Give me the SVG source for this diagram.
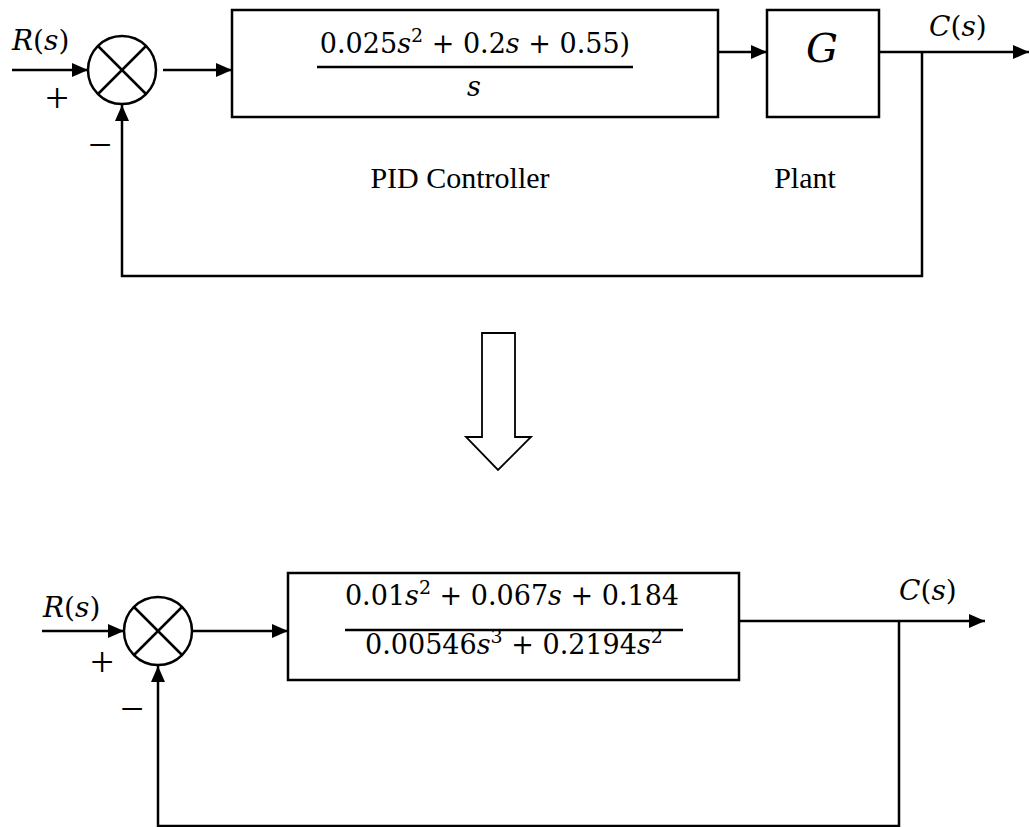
<svg xmlns="http://www.w3.org/2000/svg" width="1030" height="827" viewBox="0 0 1030 827">
<style>
.ln{fill:none;stroke:#000;stroke-width:2.5}
.bx{fill:#fff;stroke:#000;stroke-width:2.5}
.m{font-family:"DejaVu Serif","Liberation Serif",serif;font-size:27px;fill:#000}
.i{font-style:italic}
.sup{font-size:19px}
.lbl{font-family:"Liberation Serif","Times New Roman",serif;font-size:30px;fill:#000}
.sg{font-family:"Liberation Serif","Times New Roman",serif;font-size:42px;fill:#000}
</style>
<defs>
<marker id="ah" markerUnits="userSpaceOnUse" markerWidth="17" markerHeight="14" refX="16" refY="7" orient="auto">
<path d="M0,0 L16,7 L0,14 z" fill="#000"/>
</marker>
</defs>
<rect width="1030" height="827" fill="#fff"/>

<g id="connectors">
<line class="ln" x1="12" y1="70" x2="88" y2="70" marker-end="url(#ah)"/>
<line class="ln" x1="163" y1="70" x2="232" y2="70" marker-end="url(#ah)"/>
<line class="ln" x1="718" y1="52" x2="767" y2="52" marker-end="url(#ah)"/>
<line class="ln" x1="879" y1="52" x2="1029" y2="52" marker-end="url(#ah)"/>
<polyline class="ln" points="922,52 922,276 122,276 122,105" marker-end="url(#ah)"/>

<line class="ln" x1="42" y1="631" x2="124" y2="631" marker-end="url(#ah)"/>
<line class="ln" x1="192" y1="631" x2="288" y2="631" marker-end="url(#ah)"/>
<line class="ln" x1="739" y1="621" x2="985" y2="621" marker-end="url(#ah)"/>
<polyline class="ln" points="899,621 899,826 158,826 158,666" marker-end="url(#ah)"/>
</g>

<g id="sum1">
<circle cx="122" cy="70" r="34" fill="#fff" stroke="#000" stroke-width="2.5"/>
<line class="ln" x1="98" y1="46" x2="146" y2="94"/>
<line class="ln" x1="146" y1="46" x2="98" y2="94"/>
</g>

<g id="pid">
<rect class="bx" x="232" y="10" width="486" height="107"/>
<text class="m" x="475" y="53" text-anchor="middle">0.025<tspan class="i">s</tspan><tspan class="sup" dy="-11">2</tspan><tspan dy="11"> + 0.2</tspan><tspan class="i">s</tspan> + 0.55)</text>
<line x1="317" y1="67" x2="633" y2="67" stroke="#000" stroke-width="2.5"/>
<text class="m i" x="474" y="96" text-anchor="middle">s</text>
</g>

<g id="plant">
<rect class="bx" x="767" y="10" width="112" height="107"/>
<text class="m i" x="822" y="62" text-anchor="middle" style="font-size:40px">G</text>
</g>

<g id="labels-top">
<text class="m" x="12" y="50" style="font-size:28px"><tspan class="i">R</tspan>(<tspan class="i">s</tspan>)</text>
<text class="sg" x="57" y="112" text-anchor="middle">+</text>
<text class="sg" x="100" y="159" text-anchor="middle">−</text>
<text class="m" x="929" y="36" style="font-size:28px"><tspan class="i">C</tspan>(<tspan class="i">s</tspan>)</text>
<text class="lbl" x="460" y="188" text-anchor="middle">PID Controller</text>
<text class="lbl" x="805" y="188" text-anchor="middle">Plant</text>
</g>

<g id="bigarrow">
<polygon points="482,333 515,333 515,437 531,437 498,470 466,437 482,437" fill="#fff" stroke="#000" stroke-width="1.8" stroke-linejoin="miter"/>
</g>

<g id="sum2">
<circle cx="158" cy="631" r="34" fill="#fff" stroke="#000" stroke-width="2.5"/>
<line class="ln" x1="134" y1="607" x2="182" y2="655"/>
<line class="ln" x1="182" y1="607" x2="134" y2="655"/>
</g>

<g id="closedloop">
<rect class="bx" x="288" y="573" width="451" height="107"/>
<text class="m" x="512" y="605" text-anchor="middle">0.01<tspan class="i">s</tspan><tspan class="sup" dy="-11">2</tspan><tspan dy="11"> + 0.067</tspan><tspan class="i">s</tspan> + 0.184</text>
<line x1="345" y1="630" x2="683" y2="630" stroke="#000" stroke-width="2.5"/>
<text class="m" x="514" y="654" text-anchor="middle">0.00546<tspan class="i">s</tspan><tspan class="sup" dy="-11">3</tspan><tspan dy="11"> + 0.2194</tspan><tspan class="i">s</tspan><tspan class="sup" dy="-11">2</tspan></text>
</g>

<g id="labels-bottom">
<text class="m" x="43" y="617" style="font-size:28px"><tspan class="i">R</tspan>(<tspan class="i">s</tspan>)</text>
<text class="sg" x="102" y="676" text-anchor="middle">+</text>
<text class="sg" x="132" y="723" text-anchor="middle">−</text>
<text class="m" x="899" y="600" style="font-size:28px"><tspan class="i">C</tspan>(<tspan class="i">s</tspan>)</text>
</g>
</svg>
